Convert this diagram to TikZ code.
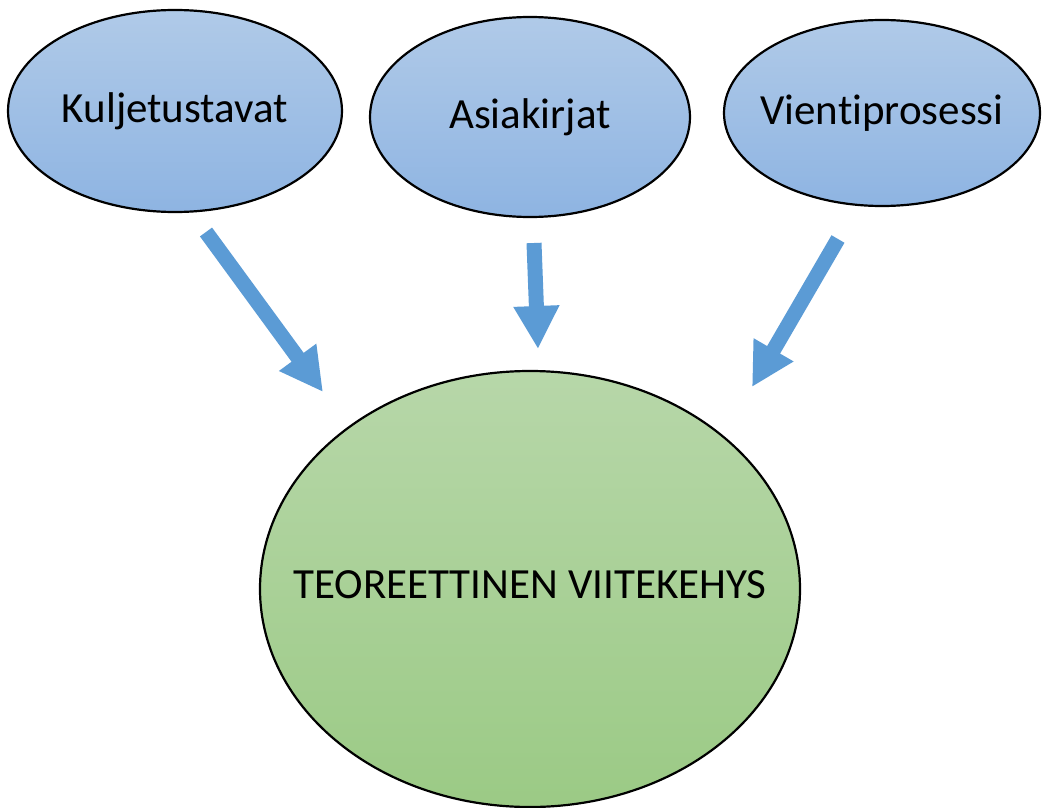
\documentclass[tikz,border=0pt]{standalone}
\usepackage{fontspec}
\setmainfont[Ligatures=NoCommon]{Carlito}
\usetikzlibrary{arrows.meta,shapes.geometric}
\definecolor{bluetop}{RGB}{176,202,232}
\definecolor{bluebot}{RGB}{142,180,226}
\definecolor{greentop}{RGB}{183,215,169}
\definecolor{greenbot}{RGB}{155,202,133}
\definecolor{arrowblue}{RGB}{91,155,213}
\newcommand{\nowidth}[1]{\makebox[0pt]{#1}}

\begin{document}
\begin{tikzpicture}[x=1pt,y=-1pt,
  topic/.style={ellipse,draw=black,line width=2.2pt,inner sep=0pt,
    top color=bluetop,bottom color=bluebot,font=\fontsize{43}{50}\selectfont},
  frame/.style={ellipse,draw=black,line width=2.2pt,inner sep=0pt,
    top color=greentop,bottom color=greenbot,font=\fontsize{43}{50}\selectfont},
  feed/.style={-{Triangle[width=43pt,length=43pt]},line width=15pt,draw=arrowblue}]
  \useasboundingbox (0,0) rectangle (1058,808);
  \node[topic,minimum width=334pt,minimum height=202pt] (kul) at (175,111) {\nowidth{Kuljetustavat}};
  \node[topic,minimum width=320pt,minimum height=200pt] (asi) at (530,117) {\raisebox{4pt}{\nowidth{Asiakirjat}}};
  \node[topic,minimum width=316pt,minimum height=186pt] (vie) at (882,113) {\nowidth{Vientiprosessi}};
  \node[frame,minimum width=540pt,minimum height=436pt] (teo) at (530,589) {\raisebox{9pt}{\nowidth{TEOREETTINEN VIITEKEHYS}}};
  % arrow ends
  \coordinate (kul out) at (206,232);
  \coordinate (asi out) at (534,243);
  \coordinate (vie out) at (838,239);
  \coordinate (teo left) at (323,392);
  \coordinate (teo top) at (538,349);
  \coordinate (teo right) at (752,387);
  \draw[feed] (kul out) -- (teo left);
  \draw[feed] (asi out) -- (teo top);
  \draw[feed] (vie out) -- (teo right);
\end{tikzpicture}
\end{document}
